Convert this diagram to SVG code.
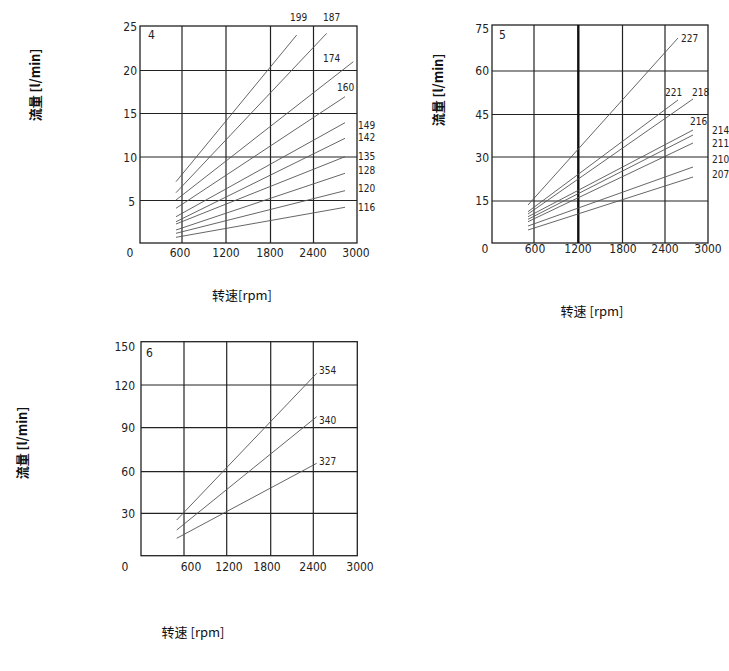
<svg xmlns="http://www.w3.org/2000/svg" width="729" height="671" viewBox="0 0 729 671">
<style>
.bg{fill:#fff}
.frame{fill:none;stroke:#222;stroke-width:1.3}
.grid{stroke:#222;stroke-width:1.2}
.thick{stroke:#111;stroke-width:2.4}
.curve{stroke:#555;stroke-width:0.9;fill:none}
.tk{font-family:"Liberation Sans Narrow","DejaVu Sans Condensed","Liberation Sans",sans-serif;font-size:12px;fill:#222}
.cl{font-family:"Liberation Sans Narrow","DejaVu Sans Condensed","Liberation Sans",sans-serif;font-size:10px;fill:#222}
.ax{font-family:"Noto Sans CJK SC","Noto Sans",sans-serif;font-size:13px;fill:#111}
.yax{font-family:"Noto Sans CJK SC","Noto Sans",sans-serif;font-size:13px;font-weight:bold;fill:#111}
</style>
<rect class="bg" x="0" y="0" width="729" height="671"/>

<g id="chart4">
  <rect class="frame" x="140" y="26" width="217" height="217"/>
  <g class="grid">
    <line x1="182" y1="26" x2="182" y2="243"/>
    <line x1="226" y1="26" x2="226" y2="243"/>
    <line x1="270.5" y1="26" x2="270.5" y2="243"/>
    <line x1="313.5" y1="26" x2="313.5" y2="243"/>
    <line x1="140" y1="70.5" x2="357" y2="70.5"/>
    <line x1="140" y1="113.5" x2="357" y2="113.5"/>
    <line x1="140" y1="157" x2="357" y2="157"/>
    <line x1="140" y1="200.5" x2="357" y2="200.5"/>
  </g>
  <text class="tk" x="148" y="39">4</text>
  <g class="tk" text-anchor="end">
    <text x="137" y="31">25</text>
    <text x="137" y="75">20</text>
    <text x="137" y="118">15</text>
    <text x="137" y="162">10</text>
    <text x="135" y="206">5</text>
  </g>
  <g class="tk" text-anchor="middle">
    <text x="130" y="257">0</text>
    <text x="180" y="257">600</text>
    <text x="226" y="257">1200</text>
    <text x="270" y="257">1800</text>
    <text x="313" y="257">2400</text>
    <text x="356" y="257">3000</text>
  </g>
  <g class="cl">
    <text x="290" y="21">199</text>
    <text x="323" y="21">187</text>
    <text x="323" y="62">174</text>
    <text x="337" y="91">160</text>
    <text x="358" y="129">149</text>
    <text x="358" y="141">142</text>
    <text x="358" y="160">135</text>
    <text x="358" y="174">128</text>
    <text x="358" y="192">120</text>
    <text x="358" y="211">116</text>
  </g>
</g>

<g id="chart5">
  <rect class="frame" x="492" y="25" width="216" height="218"/>
  <g class="grid">
    <line x1="534" y1="25" x2="534" y2="243"/>
    <line x1="622.5" y1="25" x2="622.5" y2="243"/>
    <line x1="665" y1="25" x2="665" y2="243"/>
    <line x1="492" y1="71" x2="708" y2="71"/>
    <line x1="492" y1="114.5" x2="708" y2="114.5"/>
    <line x1="492" y1="157" x2="708" y2="157"/>
    <line x1="492" y1="201" x2="708" y2="201"/>
  </g>
  <line class="thick" x1="578.3" y1="25" x2="578.3" y2="243"/>
  <text class="tk" x="499" y="39">5</text>
  <g class="tk" text-anchor="end">
    <text x="489" y="33">75</text>
    <text x="489" y="75">60</text>
    <text x="489" y="119">45</text>
    <text x="489" y="162">30</text>
    <text x="489" y="205">15</text>
  </g>
  <g class="tk" text-anchor="middle">
    <text x="485" y="253">0</text>
    <text x="535" y="253">600</text>
    <text x="578" y="253">1200</text>
    <text x="623" y="253">1800</text>
    <text x="665" y="253">2400</text>
    <text x="708" y="253">3000</text>
  </g>
  <g class="cl">
    <text x="681" y="42">227</text>
    <text x="665" y="96">221</text>
    <text x="692" y="96">218</text>
    <text x="690" y="125">216</text>
    <text x="712" y="134">214</text>
    <text x="712" y="147">211</text>
    <text x="712" y="163">210</text>
    <text x="712" y="178">207</text>
  </g>
</g>

<g id="chart6">
  <rect class="frame" x="141" y="341.7" width="216.3" height="214"/>
  <g class="grid">
    <line x1="184" y1="341.7" x2="184" y2="555.7"/>
    <line x1="226.7" y1="341.7" x2="226.7" y2="555.7"/>
    <line x1="270.7" y1="341.7" x2="270.7" y2="555.7"/>
    <line x1="313.3" y1="341.7" x2="313.3" y2="555.7"/>
    <line x1="141" y1="385" x2="357.3" y2="385"/>
    <line x1="141" y1="427.7" x2="357.3" y2="427.7"/>
    <line x1="141" y1="471.7" x2="357.3" y2="471.7"/>
    <line x1="141" y1="513.3" x2="357.3" y2="513.3"/>
  </g>
  <text class="tk" x="146" y="357">6</text>
  <g class="tk" text-anchor="end">
    <text x="135" y="351">150</text>
    <text x="135" y="390">120</text>
    <text x="135" y="432">90</text>
    <text x="135" y="476">60</text>
    <text x="135" y="518">30</text>
  </g>
  <g class="tk" text-anchor="middle">
    <text x="125" y="571">0</text>
    <text x="191" y="571">600</text>
    <text x="229" y="571">1200</text>
    <text x="267" y="571">1800</text>
    <text x="313" y="571">2400</text>
    <text x="360" y="571">3000</text>
  </g>
  <g class="cl">
    <text x="319" y="374">354</text>
    <text x="319" y="424">340</text>
    <text x="319" y="465">327</text>
  </g>
</g>

<g id="connectors">
  <g class="curve">
    <line x1="176" y1="181.7" x2="296.7" y2="35"/>
    <line x1="176" y1="192.7" x2="326.7" y2="33.3"/>
    <line x1="176" y1="200" x2="353.3" y2="61.7"/>
    <line x1="176" y1="208.3" x2="345" y2="96.7"/>
    <line x1="176" y1="216.7" x2="345" y2="122.7"/>
    <line x1="176" y1="221.7" x2="345" y2="138.3"/>
    <line x1="176" y1="224" x2="345" y2="156.7"/>
    <line x1="176" y1="230" x2="345" y2="173.3"/>
    <line x1="176" y1="233.3" x2="345" y2="190.7"/>
    <line x1="176" y1="237.3" x2="345" y2="207.3"/>

    <line x1="528" y1="205" x2="678" y2="38"/>
    <line x1="528" y1="211.7" x2="678" y2="100"/>
    <line x1="528" y1="214" x2="693" y2="99"/>
    <line x1="528" y1="216.7" x2="693" y2="130"/>
    <line x1="528" y1="219.3" x2="693" y2="135"/>
    <line x1="528" y1="221.7" x2="693" y2="143"/>
    <line x1="528" y1="226" x2="693" y2="167"/>
    <line x1="528" y1="230" x2="693" y2="177"/>

    <line x1="176.7" y1="520" x2="316.7" y2="373.3"/>
    <line x1="176.7" y1="530" x2="316.7" y2="416.7"/>
    <line x1="176.7" y1="538.3" x2="316.7" y2="463.3"/>
  </g>
</g>

<g id="axis-titles">
  <text class="ax" x="242" y="300" text-anchor="middle">转速[rpm]</text>
  <text class="ax" x="592" y="316" text-anchor="middle">转速 [rpm]</text>
  <text class="ax" x="193" y="637" text-anchor="middle">转速 [rpm]</text>
  <text class="yax" transform="translate(40,85) rotate(-90)" text-anchor="middle">流量 [l/min]</text>
  <text class="yax" transform="translate(443,90) rotate(-90)" text-anchor="middle">流量 [l/min]</text>
  <text class="yax" transform="translate(27,443) rotate(-90)" text-anchor="middle">流量 [l/min]</text>
</g>
</svg>
